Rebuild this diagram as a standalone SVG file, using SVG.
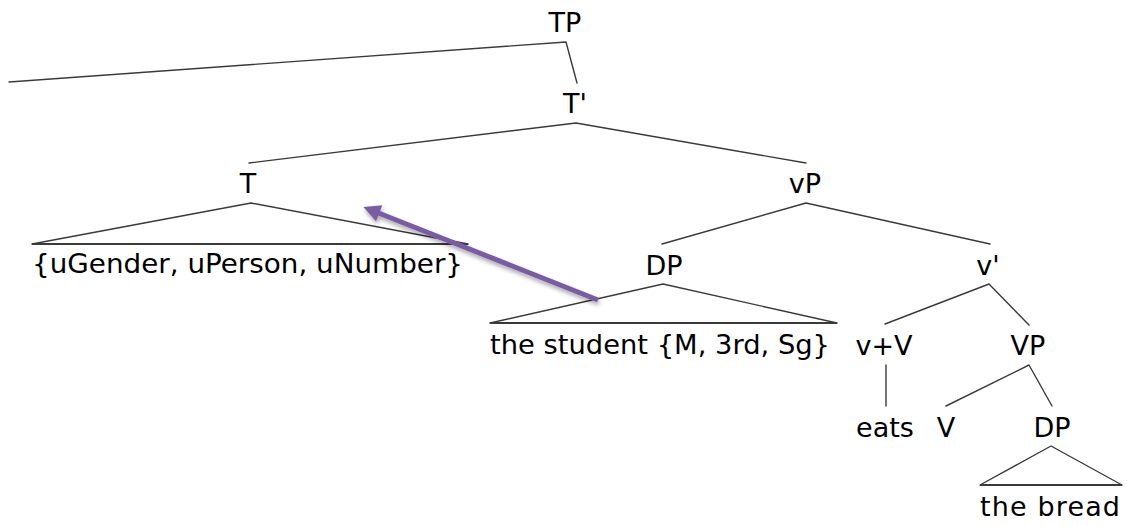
<svg xmlns="http://www.w3.org/2000/svg" width="1127" height="526" viewBox="0 0 1127 526">
<style>
  .lbl { font-family: "DejaVu Sans", "Liberation Sans", sans-serif; font-size: 27px; fill: #000; text-anchor: middle; }
  .leaf { font-family: "DejaVu Sans", "Liberation Sans", sans-serif; font-size: 27px; fill: #000; }
  .br { stroke: #3a3a3a; stroke-width: 1.4; fill: none; stroke-linecap: round; stroke-linejoin: round; }
  .base { stroke: #3a3a3a; stroke-width: 2; fill: none; }
  .move { stroke: #7a5ca6; stroke-width: 5; fill: none; }
</style>
<defs>
  <marker id="ah" viewBox="0 0 10 10" refX="2" refY="5" markerWidth="4.4" markerHeight="3.4" markerUnits="strokeWidth" orient="auto-start-reverse">
    <path d="M0,0 L10,5 L0,10 z" fill="#7a5ca6"/>
  </marker>
  <filter id="sh" x="-20%" y="-20%" width="140%" height="140%">
    <feDropShadow dx="1" dy="3" stdDeviation="2" flood-color="#000" flood-opacity="0.35"/>
  </filter>
</defs>
<rect width="1127" height="526" fill="#fff"/>
<g id="connectors">
  <polyline class="br" points="9,82 566,42 577,83"/>
  <polyline class="br" points="249,163 576,123 806,163"/>
  <polyline class="br" points="32,244 251,203 468,244"/>
  <line class="base" x1="32" y1="244" x2="468" y2="244"/>
  <polyline class="br" points="662,244 806,203 990,244"/>
  <polyline class="br" points="490,323 663,284 837,323"/>
  <line class="base" x1="490" y1="323" x2="837" y2="323"/>
  <polyline class="br" points="885,324 989,284 1029,325"/>
  <line class="br" x1="886" y1="365" x2="886" y2="406"/>
  <polyline class="br" points="946,406 1029,365 1052,406"/>
  <polyline class="br" points="980,485 1051,446 1122,485"/>
  <line class="base" x1="980" y1="485" x2="1122" y2="485"/>
  <line class="move" x1="598" y1="300" x2="376" y2="212" marker-end="url(#ah)" filter="url(#sh)"/>
</g>
<g id="n-TP"><text class="lbl" x="565" y="32">TP</text></g>
<g id="n-Tbar"><text class="lbl" x="575" y="113">T'</text></g>
<g id="n-T"><text class="lbl" x="248" y="193">T</text></g>
<g id="n-vP"><text class="lbl" x="805" y="193">vP</text></g>
<g id="n-feat"><text class="leaf" x="32" y="273" textLength="431" lengthAdjust="spacingAndGlyphs">{uGender, uPerson, uNumber}</text></g>
<g id="n-DP1"><text class="lbl" x="664" y="275">DP</text></g>
<g id="n-vbar"><text class="lbl" x="988" y="275">v'</text></g>
<g id="n-student"><text class="leaf" x="490" y="354" textLength="340" lengthAdjust="spacingAndGlyphs">the student {M, 3rd, Sg}</text></g>
<g id="n-vV"><text class="lbl" x="884" y="355">v+V</text></g>
<g id="n-VP"><text class="lbl" x="1028" y="355">VP</text></g>
<g id="n-eats"><text class="lbl" x="885" y="437">eats</text></g>
<g id="n-V"><text class="lbl" x="946" y="437">V</text></g>
<g id="n-DP2"><text class="lbl" x="1052" y="437">DP</text></g>
<g id="n-bread"><text class="leaf" x="980" y="516" textLength="140" lengthAdjust="spacing">the bread</text></g>
</svg>
